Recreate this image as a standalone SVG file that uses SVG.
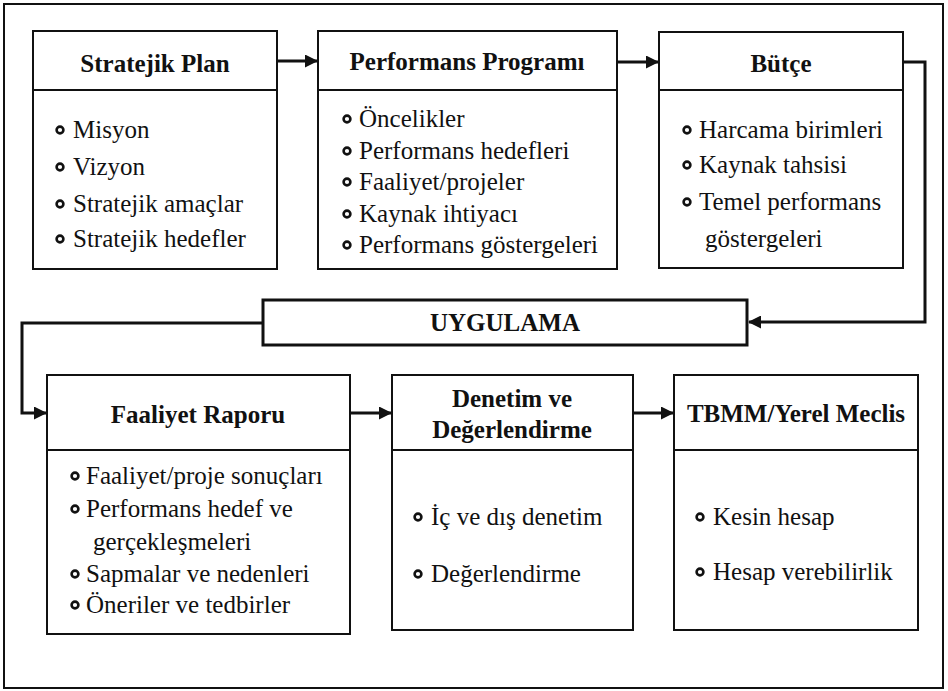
<svg xmlns="http://www.w3.org/2000/svg" width="948" height="691" viewBox="0 0 948 691">
<style>
.box{fill:#fff;stroke:#111;stroke-width:2}
.div{stroke:#111;stroke-width:2}
.h{font-family:"Liberation Serif","Times New Roman",serif;font-weight:bold;font-size:25px;fill:#111;text-anchor:middle}
.t{font-family:"Liberation Serif","Times New Roman",serif;font-size:25px;fill:#111}
.b{fill:#fff;stroke:#111;stroke-width:2.6}
.c{fill:none;stroke:#111;stroke-width:3}
</style>
<defs>
<marker id="ar" markerUnits="userSpaceOnUse" markerWidth="13" markerHeight="13" refX="12" refY="6.5" orient="auto">
<path d="M0,0 L13,6.5 L0,13 z" fill="#111"/>
</marker>
</defs>
<rect x="0" y="0" width="948" height="691" fill="#fff"/>
<rect x="4" y="4" width="939" height="684" fill="none" stroke="#111" stroke-width="2"/>

<g id="connectors">
<line class="c" x1="277" y1="61" x2="317" y2="61" marker-end="url(#ar)"/>
<line class="c" x1="617" y1="62" x2="658" y2="62" marker-end="url(#ar)"/>
<polyline class="c" points="903,62 925,62 925,322 749,322" marker-end="url(#ar)"/>
<polyline class="c" points="263,323 22,323 22,413 46,413" marker-end="url(#ar)"/>
<line class="c" x1="350" y1="413" x2="391" y2="413" marker-end="url(#ar)"/>
<line class="c" x1="633" y1="413" x2="673" y2="413" marker-end="url(#ar)"/>
</g>

<g id="stratejik-plan">
<rect class="box" x="33" y="31" width="244" height="238"/>
<line class="div" x1="33" y1="90" x2="277" y2="90"/>
<text class="h" x="155" y="72">Stratejik Plan</text>
<circle class="b" cx="60" cy="130" r="3.4"/><text class="t" x="73" y="138">Misyon</text>
<circle class="b" cx="60" cy="167" r="3.4"/><text class="t" x="73" y="175">Vizyon</text>
<circle class="b" cx="60" cy="204" r="3.4"/><text class="t" x="73" y="212">Stratejik amaçlar</text>
<circle class="b" cx="60" cy="239" r="3.4"/><text class="t" x="73" y="247">Stratejik hedefler</text>
</g>

<g id="performans-programi">
<rect class="box" x="318" y="31" width="299" height="238"/>
<line class="div" x1="318" y1="90" x2="617" y2="90"/>
<text class="h" x="467" y="70">Performans Programı</text>
<circle class="b" cx="347" cy="119" r="3.4"/><text class="t" x="359" y="127">Öncelikler</text>
<circle class="b" cx="347" cy="151" r="3.4"/><text class="t" x="359" y="159">Performans hedefleri</text>
<circle class="b" cx="347" cy="182" r="3.4"/><text class="t" x="359" y="190">Faaliyet/projeler</text>
<circle class="b" cx="347" cy="214" r="3.4"/><text class="t" x="359" y="222">Kaynak ihtiyacı</text>
<circle class="b" cx="347" cy="245" r="3.4"/><text class="t" x="359" y="253">Performans göstergeleri</text>
</g>

<g id="butce">
<rect class="box" x="659" y="32" width="244" height="236"/>
<line class="div" x1="659" y1="90" x2="903" y2="90"/>
<text class="h" x="781" y="72">Bütçe</text>
<circle class="b" cx="687" cy="130" r="3.4"/><text class="t" x="699" y="138">Harcama birimleri</text>
<circle class="b" cx="687" cy="165" r="3.4"/><text class="t" x="699" y="173">Kaynak tahsisi</text>
<circle class="b" cx="687" cy="202" r="3.4"/><text class="t" x="699" y="210">Temel performans</text>
<text class="t" x="705" y="247">göstergeleri</text>
</g>

<g id="uygulama">
<rect x="263" y="300" width="484" height="45" fill="#fff" stroke="#111" stroke-width="3"/>
<text class="h" x="505" y="331">UYGULAMA</text>
</g>

<g id="faaliyet-raporu">
<rect class="box" x="47" y="375" width="303" height="259"/>
<line class="div" x1="47" y1="450" x2="350" y2="450"/>
<text class="h" x="198" y="423">Faaliyet Raporu</text>
<circle class="b" cx="75" cy="476" r="3.4"/><text class="t" x="86" y="484">Faaliyet/proje sonuçları</text>
<circle class="b" cx="75" cy="509" r="3.4"/><text class="t" x="86" y="517">Performans hedef ve</text>
<text class="t" x="93" y="550">gerçekleşmeleri</text>
<circle class="b" cx="75" cy="574" r="3.4"/><text class="t" x="86" y="582">Sapmalar ve nedenleri</text>
<circle class="b" cx="75" cy="605" r="3.4"/><text class="t" x="86" y="613">Öneriler ve tedbirler</text>
</g>

<g id="denetim">
<rect class="box" x="392" y="375" width="241" height="255"/>
<line class="div" x1="392" y1="450" x2="633" y2="450"/>
<text class="h" x="512" y="407">Denetim ve</text>
<text class="h" x="512" y="438">Değerlendirme</text>
<circle class="b" cx="418" cy="517" r="3.4"/><text class="t" x="431" y="525">İç ve dış denetim</text>
<circle class="b" cx="418" cy="574" r="3.4"/><text class="t" x="431" y="582">Değerlendirme</text>
</g>

<g id="tbmm">
<rect class="box" x="674" y="375" width="244" height="255"/>
<line class="div" x1="674" y1="450" x2="918" y2="450"/>
<text class="h" x="796" y="422">TBMM/Yerel Meclis</text>
<circle class="b" cx="700" cy="517" r="3.4"/><text class="t" x="713" y="525">Kesin hesap</text>
<circle class="b" cx="700" cy="572" r="3.4"/><text class="t" x="713" y="580">Hesap verebilirlik</text>
</g>
</svg>
